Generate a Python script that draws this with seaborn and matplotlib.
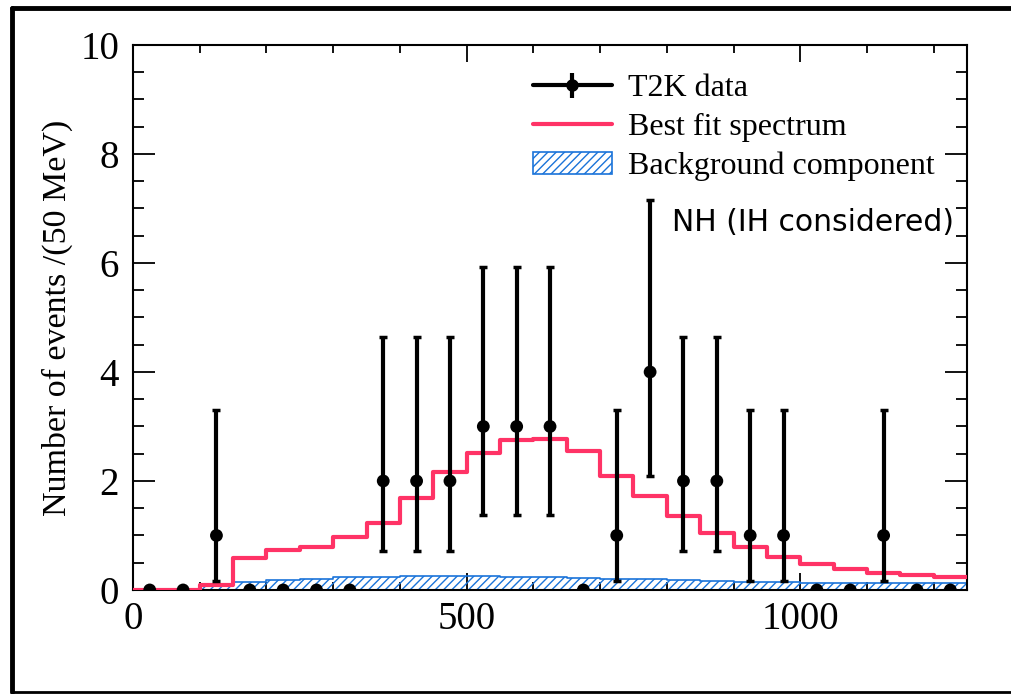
import numpy as np
import pandas as pd
import matplotlib
matplotlib.use("Agg")
import matplotlib.pyplot as plt
from matplotlib.lines import Line2D
from matplotlib.patches import Patch
from matplotlib.legend_handler import HandlerTuple
import seaborn as sns

# ---- data (50 MeV bins from 0 to 1250 MeV) ----
bin_edges = list(range(0, 1251, 50))
bin_centers = [e + 25 for e in bin_edges[:-1]]
data_counts = [0, 0, 1, 0, 0, 0, 0, 2, 2, 2, 3, 3, 3, 0, 1, 4, 2, 2, 1, 1, 0, 0, 1, 0, 0]
best_fit = [0.0, 0.0, 0.10, 0.58, 0.73, 0.78, 0.98, 1.23, 1.69, 2.17, 2.52, 2.75, 2.77,
            2.55, 2.10, 1.73, 1.35, 1.04, 0.79, 0.61, 0.48, 0.39, 0.32, 0.28, 0.24]
background = [0.0, 0.0, 0.07, 0.15, 0.18, 0.21, 0.24, 0.24, 0.26, 0.26, 0.25, 0.245, 0.23,
              0.225, 0.21, 0.20, 0.18, 0.17, 0.15, 0.15, 0.13, 0.13, 0.13, 0.12, 0.12]
# Poisson (Garwood 68%) interval bounds for counts 1..4
err_low_bound = {1: 0.173, 2: 0.708, 3: 1.367, 4: 2.086}
err_high_bound = {1: 3.300, 2: 4.638, 3: 5.918, 4: 7.163}

x_ticks = [0, 500, 1000]
y_ticks = [0, 2, 4, 6, 8, 10]

df = pd.DataFrame({"E": bin_centers, "n": data_counts, "fit": best_fit, "bkg": background})

RED = "#ff3366"
BLUE = "#1a73d9"

sns.set_theme(style="ticks")
plt.rcParams["font.family"] = ["Liberation Serif", "DejaVu Serif"]
plt.rcParams["hatch.color"] = BLUE
plt.rcParams["hatch.linewidth"] = 1.0
for key in ["text.color", "axes.labelcolor", "xtick.color", "ytick.color", "axes.edgecolor"]:
    plt.rcParams[key] = "black"

fig = plt.figure(figsize=(10.11, 6.94), dpi=100)
ax = fig.add_axes([0.1316, 0.1499, 0.8249, 0.7853])

# background component (hatched)
sns.histplot(data=df, x="E", weights="bkg", bins=bin_edges, element="step", fill=True,
             color=BLUE, facecolor=(0, 0, 0, 0), edgecolor=BLUE, hatch="////",
             linewidth=1.2, ax=ax, zorder=2)
# best fit spectrum
sns.histplot(data=df, x="E", weights="fit", bins=bin_edges, element="step", fill=False,
             color=RED, linewidth=3, ax=ax, zorder=3)

# data error bars
nz = df[df["n"] > 0]
lo = [n - err_low_bound[n] for n in nz["n"]]
hi = [err_high_bound[n] - n for n in nz["n"]]
ax.errorbar(nz["E"], nz["n"], yerr=[lo, hi], fmt="none", ecolor="black",
            elinewidth=3, capsize=3, capthick=2.5, zorder=4)
sns.scatterplot(data=df, x="E", y="n", color="black", s=85, edgecolor="none",
                ax=ax, zorder=5, legend=False)

ax.set_xlim(0, 1250)
ax.set_ylim(0, 10)
ax.set_xticks(x_ticks)
ax.set_xticks(np.arange(0, 1251, 100), minor=True)
ax.set_yticks(y_ticks)
ax.set_yticks(np.arange(0, 10.01, 0.5), minor=True)
ax.set_xlabel("")
ax.set_ylabel("Number of events /(50 MeV)", fontsize=24.5, labelpad=5, color="black")

ax.tick_params(axis="both", which="both", direction="in", top=True, right=True,
               colors="black", width=1.3)
ax.tick_params(axis="x", which="major", length=12, labelsize=28, pad=8)
ax.tick_params(axis="x", which="minor", length=6)
ax.tick_params(axis="y", which="major", length=16, labelsize=28, pad=10)
ax.tick_params(axis="y", which="minor", length=8)
for sp in ax.spines.values():
    sp.set_visible(True)
    sp.set_color("black")
    sp.set_linewidth(1.5)

# legend
h_data = (Line2D([], [], color="black", lw=3, marker="o", markersize=8),
          Line2D([], [], color="black", lw=0, marker="|", markersize=18, mew=3))
h_fit = Line2D([], [], color=RED, lw=3)
h_bkg = Patch(facecolor="none", edgecolor=BLUE, hatch="////", lw=1.2)
leg = ax.legend([h_data, h_fit, h_bkg], ["T2K data", "Best fit spectrum", "Background component"],
                handler_map={tuple: HandlerTuple(ndivide=1)},
                loc="upper left", bbox_to_anchor=(0.4796, 0.946), frameon=False, fontsize=23,
                handlelength=2.47, handleheight=0.65, handletextpad=0.5, labelspacing=0.3,
                borderaxespad=0, borderpad=0, labelcolor="black")

ax.text(0.646, 0.675, "NH (IH considered)", transform=ax.transAxes, fontsize=21.5,
        family=["DejaVu Sans"], va="center", ha="left", color="black")

# outer frame
fig.add_artist(Line2D([12 / 1011, 12 / 1011], [1 - 8 / 694, 1 - 692 / 694],
                      transform=fig.transFigure, color="black", lw=3.5))
fig.add_artist(Line2D([12 / 1011, 1.0], [1 - 8 / 694, 1 - 8 / 694],
                      transform=fig.transFigure, color="black", lw=3.5))
fig.add_artist(Line2D([12 / 1011, 1.0], [1 - 692 / 694, 1 - 692 / 694],
                      transform=fig.transFigure, color="black", lw=2))

fig.savefig("out.png", dpi=100)
